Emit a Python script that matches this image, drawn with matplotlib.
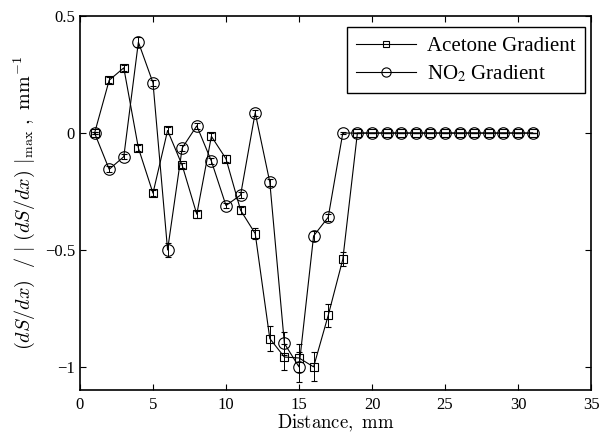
import matplotlib
matplotlib.use("Agg")
import matplotlib.pyplot as plt
import numpy as np

plt.rcParams['font.family'] = ['Liberation Serif', 'DejaVu Serif']
plt.rcParams['mathtext.fontset'] = 'stix'

distance = list(range(1, 32))
acetone = [0, 0.226, 0.279, -0.064, -0.257, 0.011, -0.138, -0.347, -0.014, -0.11,
           -0.33, -0.43, -0.879, -0.958, -0.962, -1.0, -0.78, -0.54,
           0, 0, 0, 0, 0, 0, 0, 0, 0, 0, 0, 0, 0]
acetone_err = [0.005, 0.012, 0.012, 0.012, 0.012, 0.015, 0.012, 0.015, 0.015, 0.015,
               0.015, 0.022, 0.053, 0.055, 0.06, 0.062, 0.05, 0.03,
               0, 0, 0, 0, 0, 0, 0, 0, 0, 0, 0, 0, 0]
no2 = [0, -0.155, -0.101, 0.389, 0.215, -0.5, -0.064, 0.031, -0.12, -0.31,
       -0.265, 0.087, -0.21, -0.9, -1.0, -0.44, -0.36, 0,
       0, 0, 0, 0, 0, 0, 0, 0, 0, 0, 0, 0, 0]
no2_err = [0.005, 0.012, 0.012, 0.02, 0.012, 0.03, 0.012, 0.012, 0.012, 0.012,
           0.012, 0.012, 0.015, 0.05, 0.065, 0.02, 0.015, 0.005,
           0, 0, 0, 0, 0, 0, 0, 0, 0, 0, 0, 0, 0]

fig = plt.figure(figsize=(6.05, 4.37), dpi=100)
ax = fig.add_axes([0.1322, 0.107, 0.8447, 0.856])

ax.errorbar(distance, acetone, yerr=acetone_err, color='black', lw=0.8,
            marker='s', ms=6, mfc='none', mec='black', mew=0.8,
            capsize=2.5, elinewidth=0.7, capthick=0.7, label='Acetone Gradient')
ax.errorbar(distance, no2, yerr=no2_err, color='black', lw=0.8,
            marker='o', ms=8.3, mfc='none', mec='black', mew=0.8,
            capsize=2.5, elinewidth=0.7, capthick=0.7, label='NO$_2$ Gradient')

ax.set_xlim(0, 35)
ax.set_ylim(-1.1, 0.5)
ax.set_xticks([0, 5, 10, 15, 20, 25, 30, 35])
ax.set_yticks([-1, -0.5, 0, 0.5])
ax.set_yticklabels(['\u22121', '\u22120.5', '0', '0.5'])
ax.tick_params(direction='in', top=True, right=True, labelsize=12, length=4, width=0.8)
ax.tick_params(axis='x', pad=5)
for s in ax.spines.values():
    s.set_linewidth(1.2)

ax.set_xlabel(r'$\mathrm{Distance,\ mm}$', fontsize=13.5, labelpad=0, math_fontfamily='cm')
ax.set_ylabel(r'$(dS/dx)\ \ /\ |\ (dS/dx)\ |_{\mathrm{max}}\ ,\ \mathrm{mm}^{-1}$',
              fontsize=14.5, labelpad=6, math_fontfamily='cm')

handles, labels = ax.get_legend_handles_labels()
handles = [h[0] for h in handles]
leg = ax.legend(handles, labels, loc='upper right', bbox_to_anchor=(0.988, 0.971),
                fontsize=15, handlelength=2.9, fancybox=False, edgecolor='black',
                framealpha=1, borderpad=0.45, labelspacing=0.35, handletextpad=0.5,
                borderaxespad=0, markerscale=0.8)
leg.get_frame().set_linewidth(1.0)

fig.savefig('out.png', dpi=100)
